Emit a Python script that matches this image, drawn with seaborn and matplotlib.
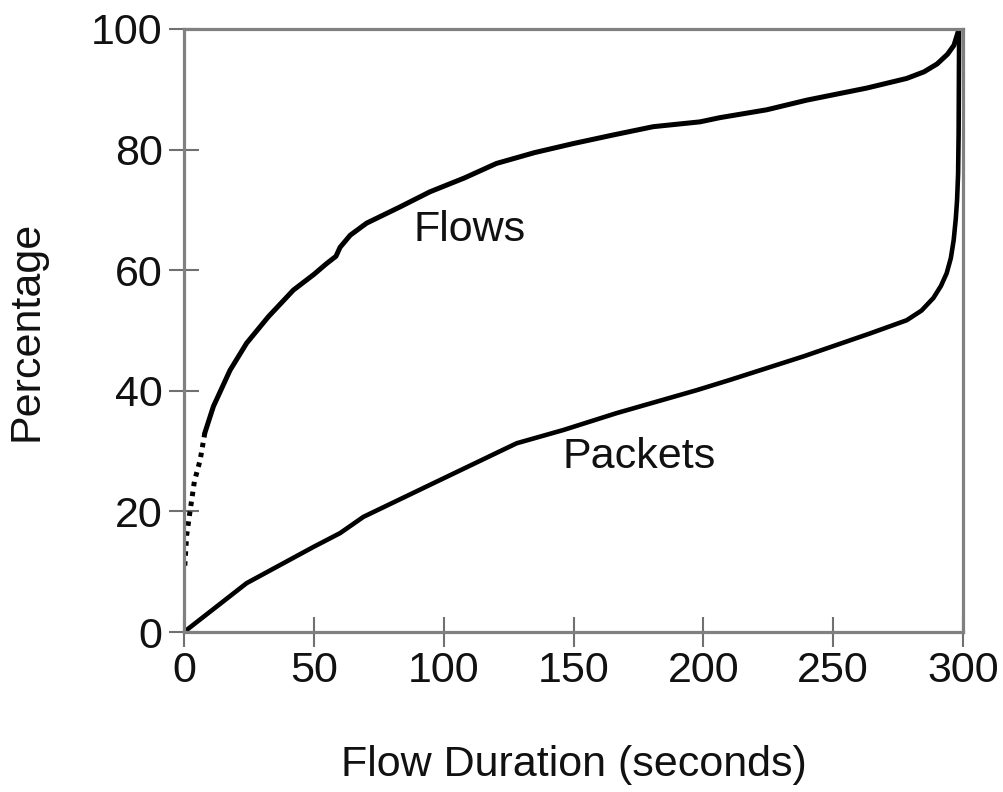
import matplotlib
matplotlib.use("Agg")
import matplotlib.pyplot as plt
import seaborn as sns
import pandas as pd

# values
flows_x = [0.3, 1, 2.3, 4, 6.2, 8, 11.3, 17.7, 24.1, 32.5, 42.1, 50, 54.9, 58.5, 60.1,
           64, 70.3, 83.2, 94.7, 108, 120.3, 135, 149.9, 165, 180.7, 198.7, 206.4,
           224.4, 239.8, 262.9, 278.3, 285, 290, 294, 296.5, 298.3]
flows_y = [11, 16, 20, 25, 28.5, 33, 37.4, 43.4, 47.9, 52.3, 56.7, 59.3, 61.1, 62.3, 63.8,
           65.8, 67.8, 70.5, 73.0, 75.3, 77.7, 79.5, 81.0, 82.4, 83.8, 84.6, 85.3,
           86.6, 88.2, 90.2, 91.8, 92.9, 94.2, 95.8, 97.3, 99.8]
packets_x = [0, 24.1, 49.8, 60.1, 69.1, 94.7, 128.1, 146.1, 166.6, 197.4, 210.2,
             238.5, 264.1, 278.3, 284, 288.6, 291.5, 293.7, 295.3, 296.4, 297.2,
             297.7, 298.1, 298.3, 298.5]
packets_y = [0, 8.1, 14.1, 16.4, 19.1, 24.4, 31.3, 33.5, 36.3, 40.1, 41.8,
             45.7, 49.5, 51.7, 53.3, 55.4, 57.4, 59.5, 62.0, 65.0, 68.5,
             71.6, 76.0, 82.7, 100]
x_ticks = [0, 50, 100, 150, 200, 250, 300]
y_ticks = [0, 20, 40, 60, 80, 100]
n_dotted = 5  # first flows points are drawn dotted in the original

flows = pd.DataFrame({"x": flows_x, "y": flows_y})
packets = pd.DataFrame({"x": packets_x, "y": packets_y})

sns.set_style("ticks")
plt.rcParams["font.family"] = ["Liberation Sans", "DejaVu Sans"]

fig = plt.figure(figsize=(10.04, 7.92), dpi=100)
ax = fig.add_axes([0.1833, 0.2020, 0.7759, 0.7614])

sns.lineplot(data=flows.iloc[:n_dotted + 1], x="x", y="y", ax=ax, color="black",
             lw=3.6, ls=(0, (0.9, 1.1)), estimator=None, sort=False)
sns.lineplot(data=flows.iloc[n_dotted:], x="x", y="y", ax=ax, color="black",
             lw=3.6, estimator=None, sort=False)
sns.lineplot(data=packets, x="x", y="y", ax=ax, color="black",
             lw=3.3, estimator=None, sort=False)

ax.set_xlim(0, 300)
ax.set_ylim(0, 100)
ax.set_xticks(x_ticks)
ax.set_yticks(y_ticks)
ax.tick_params(axis="both", direction="inout", length=21, width=1.5,
               color="#707070", labelsize=31, labelcolor="#111111")
ax.tick_params(axis="x", pad=3)
ax.tick_params(axis="y", pad=5)
for sp in ax.spines.values():
    sp.set_color("#808080")
    sp.set_linewidth(2.3)

ax.text(110, 66.7, "Flows", fontsize=31, ha="center", va="center", color="#111111")
ax.text(175.4, 29.0, "Packets", fontsize=31, ha="center", va="center", color="#111111")

ax.set_xlabel("Flow Duration (seconds)", fontsize=31, color="#111111")
ax.set_ylabel("Percentage", fontsize=31, color="#111111")
ax.xaxis.set_label_coords(0.5, -0.187)
ax.yaxis.set_label_coords(-0.176, 0.5)

fig.savefig("out.png", dpi=100)
